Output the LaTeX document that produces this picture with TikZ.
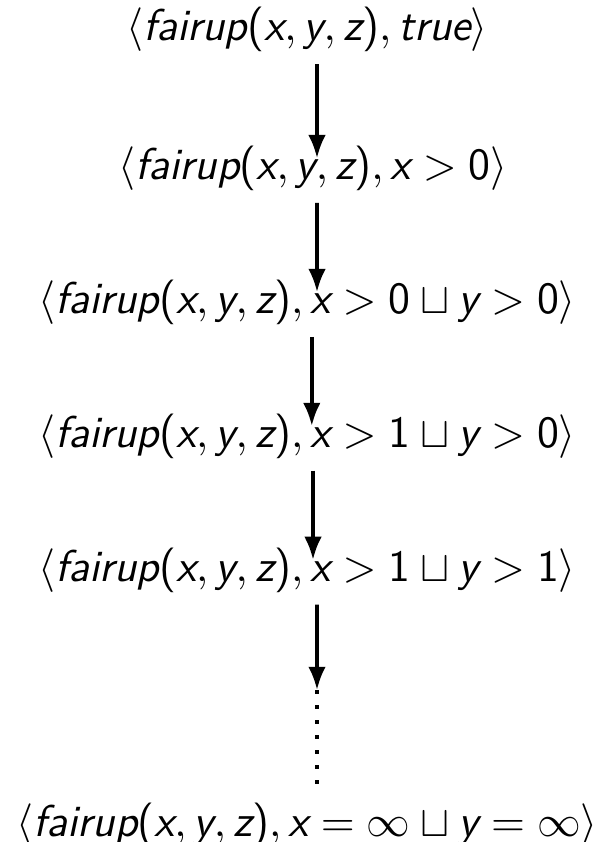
\documentclass[tikz,border=0pt]{standalone}
\usetikzlibrary{arrows.meta,positioning}
% sans serif math letters, digits and brackets
\DeclareSymbolFont{sfup}{\encodingdefault}{lmss}{m}{n}
\DeclareSymbolFont{sfit}{\encodingdefault}{lmss}{m}{sl}
\DeclareMathSymbol{(}{\mathopen}{sfup}{`(}
\DeclareMathSymbol{)}{\mathclose}{sfup}{`)}
\DeclareMathSymbol{0}{\mathalpha}{sfup}{`0}
\DeclareMathSymbol{1}{\mathalpha}{sfup}{`1}
\DeclareMathSymbol{a}{\mathalpha}{sfit}{`a}
\DeclareMathSymbol{e}{\mathalpha}{sfit}{`e}
\DeclareMathSymbol{f}{\mathalpha}{sfit}{`f}
\DeclareMathSymbol{i}{\mathalpha}{sfit}{`i}
\DeclareMathSymbol{p}{\mathalpha}{sfit}{`p}
\DeclareMathSymbol{r}{\mathalpha}{sfit}{`r}
\DeclareMathSymbol{t}{\mathalpha}{sfit}{`t}
\DeclareMathSymbol{u}{\mathalpha}{sfit}{`u}
\DeclareMathSymbol{x}{\mathalpha}{sfit}{`x}
\DeclareMathSymbol{y}{\mathalpha}{sfit}{`y}
\DeclareMathSymbol{z}{\mathalpha}{sfit}{`z}
\newcommand{\fup}{\langle fairup(x,y,z),}

\begin{document}
\begin{tikzpicture}[
    x=0.25bp, y=-0.25bp,
    node distance=22.3bp,
    every node/.style={font=\fontsize{11.2}{13.5}\selectfont},
    state/.style={inner sep=0pt, outer sep=0pt},
    flow/.style={-{Latex[length=5.8bp,width=4.4bp]}, line width=0.9pt, shorten <=3bp, shorten >=-3bp},
    limit/.style={line width=1bp, dash pattern=on 1bp off 2.75bp, shorten >=3bp}
]
\useasboundingbox (0,0) rectangle (599,842);
\node[state, anchor=base] (init) at (307,41) {$\fup true\rangle$};
\node[state, below=23.5bp of init, xshift=1.5bp] (xpos) {$\fup x>0\rangle$};
\node[state, below=of xpos, xshift=-1.5bp] (xypos) {$\fup x>0\sqcup y>0\rangle$};
\node[state, below=of xypos] (xone) {$\fup x>1\sqcup y>0\rangle$};
\node[state, below=of xone] (xyone) {$\fup x>1\sqcup y>1\rangle$};
\node[state, below=52.5bp of xyone] (limit) {$\fup x=\infty\sqcup y=\infty\rangle$};
\coordinate (gap) at (317,690);
\draw[flow] ([xshift=2.5bp]init.south) -- ([xshift=1bp]xpos.north);
\draw[flow] ([xshift=1bp]xpos.south) -- ([xshift=2.5bp]xypos.north);
\draw[flow] ([xshift=1.2bp]xypos.south) -- ([xshift=1.2bp]xone.north);
\draw[flow] ([xshift=1.5bp]xone.south) -- ([xshift=1.5bp]xyone.north);
\draw[flow, shorten >=0pt] ([xshift=2.5bp]xyone.south) -- (gap);
\draw[limit] (gap) -- (gap |- limit.north);
\end{tikzpicture}
\end{document}
